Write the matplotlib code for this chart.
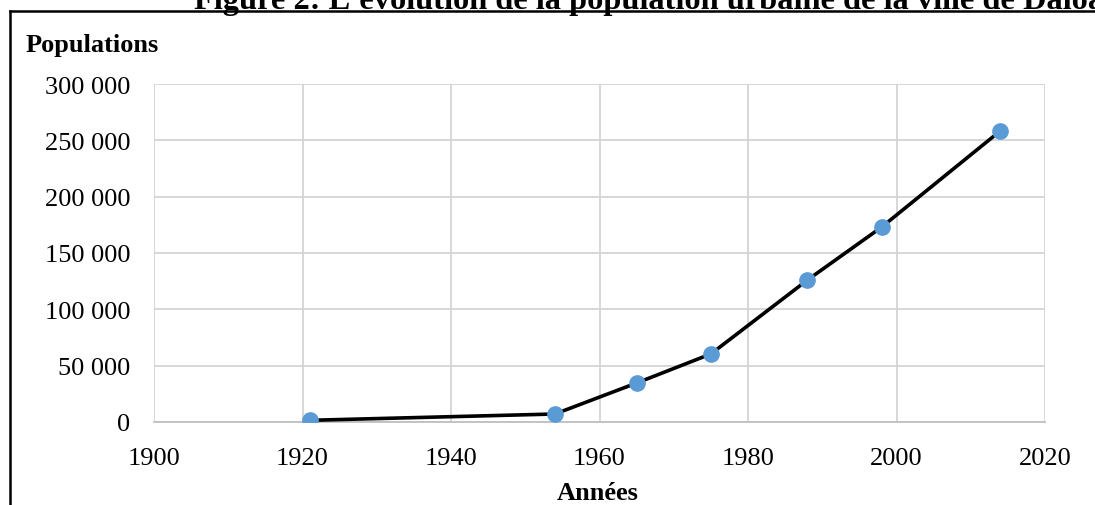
import matplotlib
matplotlib.use("Agg")
import matplotlib.pyplot as plt
from matplotlib.lines import Line2D
from matplotlib.ticker import FuncFormatter, MultipleLocator

years = [1921, 1954, 1965, 1975, 1988, 1998, 2014]
population = [1500, 7100, 34600, 60400, 126000, 173000, 258500]

title = "Figure 2: L'évolution de la population urbaine de la ville de Daloa"
ylabel = "Populations"
xlabel = "Années"

W, H = 1095, 506
fig = plt.figure(figsize=(W / 100, H / 100), dpi=100)
plt.rcParams['font.family'] = ['Liberation Serif', 'DejaVu Serif']

def fx(px):
    return px / W

def fy(py):
    return 1 - py / H

ax = fig.add_axes([fx(154), fy(423), fx(1045) - fx(154), fy(85) - fy(423)])
ax.plot(years, population, color='black', lw=2.6, zorder=3,
        marker='o', markersize=11, markerfacecolor='#5B9BD5',
        markeredgecolor='#5B9BD5', solid_capstyle='round')
ax.set_xlim(1900, 2020)
ax.set_ylim(0, 300000)
ax.xaxis.set_major_locator(MultipleLocator(20))
ax.yaxis.set_major_locator(MultipleLocator(50000))
ax.yaxis.set_major_formatter(FuncFormatter(lambda v, p: f"{int(v):,}".replace(",", " ")))
ax.grid(True, color='#D4D4D4', lw=1.3)
ax.set_axisbelow(True)
for s in ax.spines.values():
    s.set_visible(False)
ax.spines['bottom'].set_visible(True)
ax.spines['bottom'].set_color('#BFBFBF')
ax.spines['bottom'].set_linewidth(1.3)
ax.tick_params(length=0, labelsize=19)
ax.tick_params(axis='y', pad=17)
ax.tick_params(axis='x', pad=18)

fig.text(fx(26), fy(52), ylabel, fontsize=19, fontweight='bold', ha='left', va='baseline')
fig.text(fx(598), fy(500), xlabel, fontsize=19, fontweight='bold', ha='center', va='baseline')
fig.text(fx(194), fy(8.5), title, fontsize=23.3, fontweight='bold', ha='left', va='baseline')

fig.add_artist(Line2D([fx(9.5), fx(9.5)], [fy(11.5), 0], transform=fig.transFigure, color='black', lw=1.8))
fig.add_artist(Line2D([fx(9.5), 1], [fy(11.5), fy(11.5)], transform=fig.transFigure, color='black', lw=1.8))

fig.savefig("out.png", dpi=100)
